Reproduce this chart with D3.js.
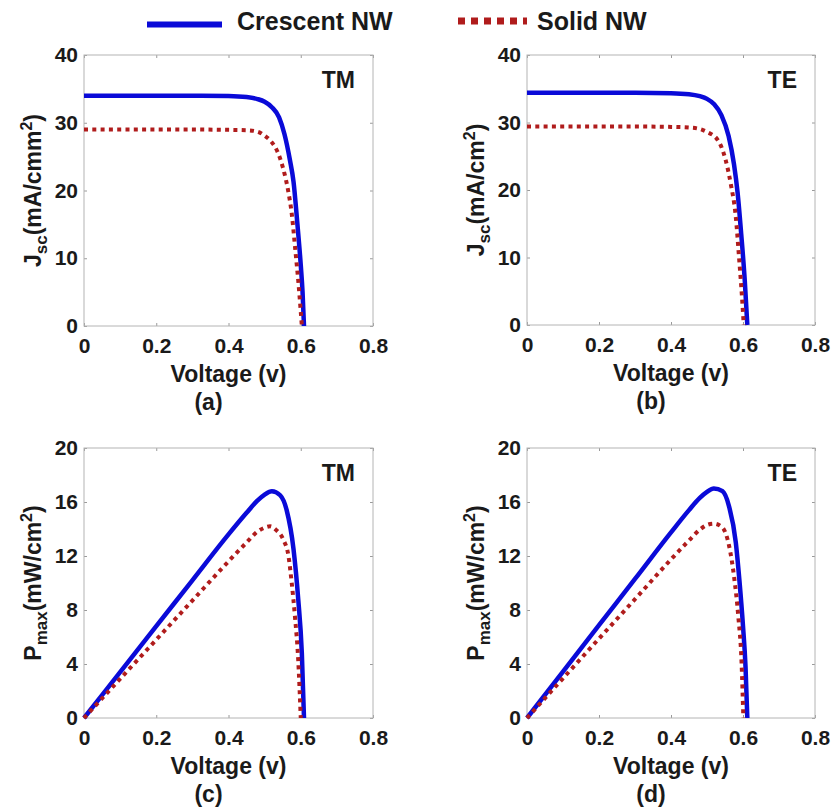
<!DOCTYPE html>
<html lang="en">
<head>
<meta charset="utf-8">
<title>Crescent NW vs Solid NW</title>
<script src="https://cdn.jsdelivr.net/npm/d3@7"></script>
<style>
  body { margin: 0; background: #fff; }
  text { font-family: "Liberation Sans", Arial, sans-serif; font-weight: bold; fill: #1a1a1a; }
</style>
</head>
<body>

<div id="my_dataviz"></div>

<script>

// ---- data ----

// axis ticks
var voltTicks = [0, 0.2, 0.4, 0.6, 0.8];
var jTicks = [0, 10, 20, 30, 40];
var pTicks = [0, 4, 8, 12, 16, 20];

// (a) TM : J-V
var vCrescentJTM = [0, 0.1, 0.2, 0.3, 0.4, 0.45, 0.48, 0.5, 0.52, 0.54, 0.555, 0.57, 0.58, 0.59, 0.6, 0.605, 0.609];
var jCrescentTM  = [34.0, 34.0, 34.0, 34.0, 33.95, 33.8, 33.5, 33.1, 32.3, 30.8, 28.3, 24.5, 21.3, 15.5, 9.0, 5.0, 0];
var vSolidJTM = [0, 0.1, 0.2, 0.3, 0.4, 0.45, 0.48, 0.5, 0.52, 0.535, 0.55, 0.565, 0.575, 0.585, 0.595, 0.603];
var jSolidTM  = [29.0, 29.0, 29.0, 29.0, 28.95, 28.9, 28.7, 28.1, 27.1, 25.8, 23.5, 20.0, 16.6, 11.2, 5.5, 0];

// (b) TE : J-V
var vCrescentJTE = [0, 0.1, 0.2, 0.3, 0.4, 0.45, 0.48, 0.5, 0.52, 0.54, 0.56, 0.575, 0.585, 0.595, 0.605, 0.612];
var jCrescentTE  = [34.4, 34.4, 34.4, 34.4, 34.35, 34.2, 33.9, 33.5, 32.7, 31.1, 28.0, 23.8, 19.6, 13.5, 6.5, 0];
var vSolidJTE = [0, 0.1, 0.2, 0.3, 0.4, 0.45, 0.475, 0.5, 0.53, 0.552, 0.566, 0.58, 0.589, 0.598, 0.602];
var jSolidTE  = [29.4, 29.4, 29.4, 29.4, 29.35, 29.25, 29.1, 28.6, 27.4, 24.4, 20.9, 16.0, 10.0, 3.5, 0];

// (c) TM : P-V
var vCrescentPTM = [0, 0.1, 0.2, 0.3, 0.4, 0.45, 0.48, 0.5, 0.52, 0.543, 0.561, 0.58, 0.593, 0.603, 0.609];
var pCrescentTM  = [0, 3.4, 6.8, 10.2, 13.6, 15.2, 16.1, 16.55, 16.8, 16.5, 15.4, 12.5, 8.8, 4.8, 0];
var vSolidPTM = [0, 0.1, 0.2, 0.3, 0.4, 0.45, 0.48, 0.5, 0.515, 0.533, 0.552, 0.566, 0.575, 0.584, 0.593, 0.6];
var pSolidTM  = [0, 2.9, 5.8, 8.7, 11.6, 13.0, 13.8, 14.1, 14.2, 13.9, 13.2, 12.0, 10.0, 7.5, 4.3, 0];

// (d) TE : P-V
var vCrescentPTE = [0, 0.1, 0.2, 0.3, 0.4, 0.45, 0.48, 0.5, 0.519, 0.543, 0.561, 0.58, 0.59, 0.6, 0.607, 0.612];
var pCrescentTE  = [0, 3.44, 6.88, 10.3, 13.75, 15.4, 16.3, 16.75, 17.0, 16.8, 15.7, 13.0, 10.2, 6.8, 3.8, 0];
var vSolidPTE = [0, 0.1, 0.2, 0.3, 0.4, 0.45, 0.48, 0.5, 0.519, 0.543, 0.561, 0.575, 0.587, 0.596, 0.601];
var pSolidTE  = [0, 2.94, 5.88, 8.8, 11.75, 13.15, 13.95, 14.3, 14.4, 14.1, 12.8, 10.5, 7.5, 4.1, 0];

var seriesNames = ["Crescent NW", "Solid NW"];
var blue = "#0a0ad8", red = "#b01c1c";

// ---- layout ----
var svg = d3.select("#my_dataviz")
  .append("svg")
  .attr("width", 833)
  .attr("height", 810);

var panels = [
  {left: 84,  top: 55,  w: 289, h: 271, ymax: 40, yt: jTicks, title: "TM", tag: "(a)", q: "J", sub: "sc", unit: "mA/cmm",
   cres: [vCrescentJTM, jCrescentTM], sol: [vSolidJTM, jSolidTM]},
  {left: 527, top: 55,  w: 288, h: 270, ymax: 40, yt: jTicks, title: "TE", tag: "(b)", q: "J", sub: "sc", unit: "mA/cm",
   cres: [vCrescentJTE, jCrescentTE], sol: [vSolidJTE, jSolidTE]},
  {left: 84,  top: 448, w: 289, h: 270, ymax: 20, yt: pTicks, title: "TM", tag: "(c)", q: "P", sub: "max", unit: "mW/cm",
   cres: [vCrescentPTM, pCrescentTM], sol: [vSolidPTM, pSolidTM]},
  {left: 527, top: 448, w: 288, h: 270, ymax: 20, yt: pTicks, title: "TE", tag: "(d)", q: "P", sub: "max", unit: "mW/cm",
   cres: [vCrescentPTE, pCrescentTE], sol: [vSolidPTE, pSolidTE]}
];

function fmtV(d) { return d === 0 ? "0" : d3.format(".1f")(d); }

function styleAxis(sel) {
  sel.select(".domain").remove();
  sel.selectAll(".tick line").attr("stroke", "#9a9a9a");
  sel.selectAll(".tick text").style("font-size", "21px").style("font-family", "'Liberation Sans', Arial, sans-serif")
    .style("font-weight", "bold").attr("fill", "#1a1a1a");
}

panels.forEach(function(p) {
  var g = svg.append("g").attr("transform", "translate(" + p.left + "," + p.top + ")");

  var x = d3.scaleLinear().domain([0, 0.8]).range([0, p.w]);
  var y = d3.scaleLinear().domain([0, p.ymax]).range([p.h, 0]);

  // ticks on all four sides, pointing inward (matlab style)
  g.append("g").attr("transform", "translate(0," + p.h + ")")
    .call(d3.axisBottom(x).tickValues(voltTicks).tickSize(-3).tickPadding(12).tickFormat(fmtV))
    .call(styleAxis);
  g.append("g")
    .call(d3.axisTop(x).tickValues(voltTicks).tickSize(-3).tickFormat(""))
    .call(styleAxis);
  g.append("g")
    .call(d3.axisLeft(y).tickValues(p.yt).tickSize(-3).tickPadding(6))
    .call(styleAxis);
  g.append("g").attr("transform", "translate(" + p.w + ",0)")
    .call(d3.axisRight(y).tickValues(p.yt).tickSize(-3).tickFormat(""))
    .call(styleAxis);

  // box
  g.append("rect")
    .attr("width", p.w).attr("height", p.h)
    .attr("fill", "none").attr("stroke", "#b4b4b4").attr("stroke-width", 1);

  var line = d3.line()
    .x(function(d) { return x(d[0]); })
    .y(function(d) { return y(d[1]); })
    .curve(d3.curveMonotoneX);

  g.append("path")
    .datum(d3.zip(p.cres[0], p.cres[1]))
    .attr("d", line)
    .attr("fill", "none").attr("stroke", blue).attr("stroke-width", 4.5);

  g.append("path")
    .datum(d3.zip(p.sol[0], p.sol[1]))
    .attr("d", line)
    .attr("fill", "none").attr("stroke", red).attr("stroke-width", 4)
    .attr("stroke-dasharray", "4,4.3");

  // polarisation tag
  g.append("text")
    .attr("x", p.w - 18).attr("y", 33)
    .attr("text-anchor", "end")
    .style("font-size", "23px")
    .text(p.title);

  // x label + panel letter
  g.append("text")
    .attr("x", p.w / 2).attr("y", p.h + 56)
    .attr("text-anchor", "middle")
    .style("font-size", "23px")
    .text("Voltage (v)");
  g.append("text")
    .attr("x", p.w / 2 - 20).attr("y", p.h + 84)
    .attr("text-anchor", "middle")
    .style("font-size", "23px")
    .text(p.tag);

  // y label with sub/superscript
  var t = g.append("text")
    .attr("transform", "translate(-43," + (p.h / 2) + ") rotate(-90)")
    .attr("text-anchor", "middle")
    .style("font-size", "23px");
  t.append("tspan").text(p.q);
  t.append("tspan").attr("dy", 6).style("font-size", "17px").text(p.sub);
  t.append("tspan").attr("dy", -6).text("(" + p.unit);
  t.append("tspan").attr("dy", -9).style("font-size", "16px").text("2");
  t.append("tspan").attr("dy", 9).text(")");
});

// ---- legend ----
var leg = svg.append("g");
leg.append("line")
  .attr("x1", 147).attr("x2", 222).attr("y1", 24.5).attr("y2", 24.5)
  .attr("stroke", blue).attr("stroke-width", 6);
leg.append("text")
  .attr("x", 237).attr("y", 30)
  .style("font-size", "25px")
  .text(seriesNames[0]);
leg.append("line")
  .attr("x1", 458).attr("x2", 527).attr("y1", 21).attr("y2", 21)
  .attr("stroke", red).attr("stroke-width", 7)
  .attr("stroke-dasharray", "7,6");
leg.append("text")
  .attr("x", 537).attr("y", 30)
  .style("font-size", "25px")
  .text(seriesNames[1]);

</script>
</body>
</html>
